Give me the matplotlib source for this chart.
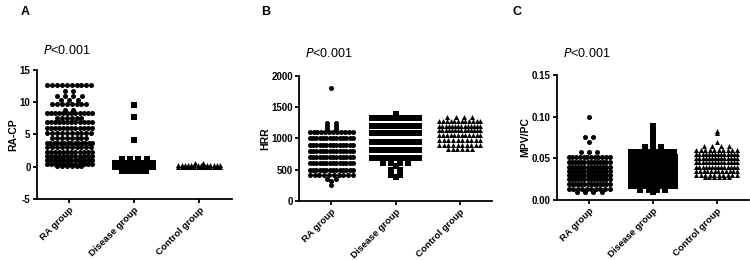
import numpy as np
import matplotlib.pyplot as plt

plt.rcParams['font.family'] = ['Liberation Sans', 'DejaVu Sans']

groups = ["RA group", "Disease group", "Control group"]

# each group: row values and number of points in each row
# panel A  (RA-CP)
a_ra_vals = [12.6, 11.8, 11.0, 10.4, 9.7, 8.8, 8.3, 7.6, 6.9, 6.0, 5.2, 4.5, 3.7, 3.0, 2.3, 1.6, 1.0, 0.4, 0.1]
a_ra_cnt = [10, 2, 4, 3, 8, 2, 12, 6, 12, 12, 10, 8, 14, 10, 12, 12, 14, 12, 6]
a_dis_vals = [9.6, 7.7, 4.1, 1.2, 0.5, 0.2, 0.0, -0.6]
a_dis_cnt = [1, 1, 1, 4, 12, 14, 10, 6]
a_con_vals = [0.6, 0.2, 0.0]
a_con_cnt = [2, 14, 14]

# panel B  (HRR)
b_ra_vals = [1800, 1250, 1200, 1150, 1100, 1000, 900, 800, 700, 600, 500, 420, 350, 320, 250]
b_ra_cnt = [1, 2, 2, 2, 12, 14, 14, 14, 14, 14, 14, 10, 2, 1, 1]
b_dis_vals = [1390, 1320, 1200, 1080, 950, 820, 690, 600, 560, 500, 470, 420, 380]
b_dis_cnt = [1, 16, 16, 16, 16, 16, 16, 4, 1, 2, 2, 2, 1]
b_con_vals = [1350, 1280, 1200, 1130, 1060, 980, 900, 830]
b_con_cnt = [4, 12, 14, 14, 12, 10, 10, 6]

# panel C  (MPV/PC)
c_ra_vals = [0.099, 0.076, 0.069, 0.057, 0.052, 0.046, 0.040, 0.035, 0.030, 0.025, 0.019, 0.013, 0.009]
c_ra_cnt = [1, 2, 1, 3, 12, 14, 14, 14, 14, 14, 14, 10, 4]
c_dis_vals = [0.089, 0.082, 0.076, 0.069, 0.063, 0.058, 0.051, 0.044, 0.037, 0.030, 0.023, 0.017, 0.012, 0.010]
c_dis_cnt = [1, 1, 1, 1, 3, 10, 14, 16, 16, 16, 16, 16, 4, 1]
c_con_vals = [0.083, 0.080, 0.069, 0.065, 0.060, 0.055, 0.050, 0.045, 0.040, 0.035, 0.030, 0.027]
c_con_cnt = [1, 1, 1, 4, 10, 14, 14, 14, 14, 12, 10, 6]

panels = [
    ("A", "RA-CP", [(a_ra_vals, a_ra_cnt), (a_dis_vals, a_dis_cnt), (a_con_vals, a_con_cnt)],
     (-5, 15), [-5, 0, 5, 10, 15], ["-5", "0", "5", "10", "15"]),
    ("B", "HRR", [(b_ra_vals, b_ra_cnt), (b_dis_vals, b_dis_cnt), (b_con_vals, b_con_cnt)],
     (0, 2000), [0, 500, 1000, 1500, 2000], ["0", "500", "1000", "1500", "2000"]),
    ("C", "MPV/PC", [(c_ra_vals, c_ra_cnt), (c_dis_vals, c_dis_cnt), (c_con_vals, c_con_cnt)],
     (0, 0.15), [0, 0.05, 0.10, 0.15], ["0.00", "0.05", "0.10", "0.15"]),
]

axes_rects = [
    [0.049, 0.235, 0.260, 0.496],
    [0.399, 0.227, 0.257, 0.481],
    [0.743, 0.231, 0.255, 0.481],
]
# max half width of each swarm (axis units)
half_w = [[0.35, 0.29, 0.32], [0.34, 0.37, 0.32], [0.32, 0.35, 0.32]]
letter_x = [0.027, 0.348, 0.683]
p_x = [0.057, 0.407, 0.751]
p_y = [0.805, 0.795, 0.795]
markers = ["o", "s", "^"]
spacing = 0.075

fig = plt.figure(figsize=(7.5, 2.6), dpi=100)

for i, (letter, ylab, data, ylim, yt, ytl) in enumerate(panels):
    ax = fig.add_axes(axes_rects[i])
    for g, (vals, cnts) in enumerate(data):
        xs, ys = [], []
        for v, n in zip(vals, cnts):
            if n <= 4:
                step = 0.13
            else:
                step = min(spacing, 2 * half_w[i][g] / (n - 1))
            offs = (np.arange(n) - (n - 1) / 2) * step
            xs.extend(g + offs)
            ys.extend([v] * n)
        ax.scatter(xs, ys, marker=markers[g], s=13, c="black", linewidths=0, clip_on=False)
    ax.set_xlim(-0.5, 2.5)
    ax.set_ylim(*ylim)
    ax.set_yticks(yt)
    ax.set_yticklabels(ytl, fontsize=7, fontweight="bold")
    ax.set_xticks([0, 1, 2])
    ax.set_xticklabels(groups, rotation=45, ha="right", rotation_mode="anchor",
                       fontsize=6.8, fontweight="bold")
    ax.set_ylabel(ylab, fontsize=7.5, fontweight="bold", labelpad=1)
    for s in ["top", "right"]:
        ax.spines[s].set_visible(False)
    for s in ["left", "bottom"]:
        ax.spines[s].set_linewidth(1.3)
    ax.tick_params(width=1.3, length=3, pad=1.5)
    fig.text(letter_x[i], 0.955, letter, fontsize=9, fontweight="bold", va="center")
    fig.text(p_x[i], p_y[i], "$\\it{P}$<0.001", fontsize=9, va="center")

fig.savefig("out.png", dpi=100)
